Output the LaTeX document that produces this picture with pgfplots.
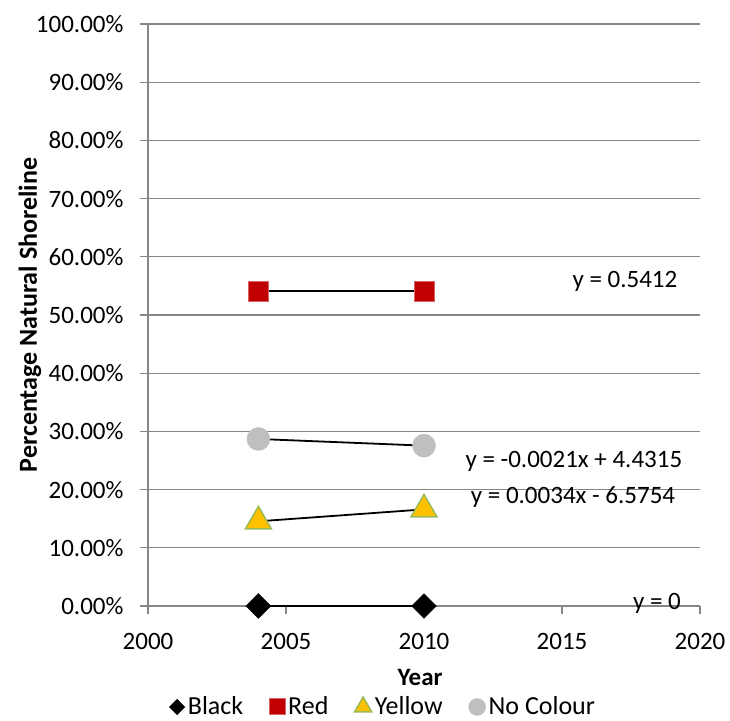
\documentclass[border=0pt]{standalone}
\usepackage{pgfplots}
\pgfplotsset{compat=1.18}
\usetikzlibrary{calc}
\usepackage{fontspec}
\setmainfont{Carlito}
\definecolor{gridgray}{HTML}{868686}
\definecolor{xlred}{HTML}{C00000}
\definecolor{xlyellow}{HTML}{FFC000}
\definecolor{xlgreen}{HTML}{9BBB59}
\definecolor{xlgray}{HTML}{BFBFBF}
\begin{document}
\fontsize{25bp}{30bp}\selectfont
\begin{tikzpicture}
\begin{axis}[
    scale only axis,
    width=552bp, height=582bp,
    xmin=2000, xmax=2020,
    ymin=0, ymax=1,
    xtick={2000,2005,2010,2015,2020},
    xticklabels={2000,2005,2010,2015,2020},
    ytick={0,0.1,0.2,0.3,0.4,0.5,0.6,0.7,0.8,0.9,1},
    yticklabels={0.00\%,10.00\%,20.00\%,30.00\%,40.00\%,50.00\%,60.00\%,70.00\%,80.00\%,90.00\%,100.00\%},
    axis x line*=bottom, axis y line*=left,
    axis line style={gridgray, line width=1.2bp, -},
    tick style={gridgray, line width=1.2bp},
    tick align=outside, major tick length=8bp,
    ymajorgrids, grid style={gridgray, line width=1.2bp},
    xlabel={\textbf{Year}},
    ylabel={\textbf{Percentage Natural Shoreline}},
    xlabel style={at={(axis description cs:0.493,-0.122)}, anchor=center},
    ylabel style={at={(axis description cs:-0.214,0.5)}, anchor=center,
        font=\fontsize{26bp}{30bp}\selectfont},
    ticklabel style={font=\fontsize{25bp}{30bp}\selectfont},
    xticklabel style={yshift=-11bp},
    yticklabel style={xshift=-8bp},
    clip=false,
    legend columns=4,
    legend style={at={(axis description cs:0.426,-0.1735)}, anchor=center, draw=none, fill=none,
        font=\fontsize{26bp}{30bp}\selectfont,
        nodes={inner ysep=1bp},
        /tikz/every odd column/.append style={column sep=1bp},
        /tikz/every even column/.append style={column sep=24bp}},
    legend cell align=left,
]
% markers
\addplot[only marks, mark=square*, mark size=8.8bp, mark options={fill=black, draw=black, rotate=45},
    legend image post style={mark size=5.5bp}]
    coordinates {(2004,0) (2010,0)};
\addlegendentry{Black}
\addplot[only marks, mark=square*, mark size=10bp, mark options={fill=xlred, draw=xlred!60!white, line width=1bp},
    legend image post style={mark size=8bp}]
    coordinates {(2004,0.5412) (2010,0.5412)};
\addlegendentry{Red}
\addplot[only marks, mark=triangle*, mark size=15bp, mark options={fill=xlyellow, draw=xlgreen, line width=1.5bp},
    legend image post style={mark size=10bp}]
    coordinates {(2004,0.1455) (2010,0.1660)};
\addlegendentry{Yellow}
\addplot[only marks, mark=*, mark size=11.5bp, mark options={fill=xlgray, draw=xlgray},
    legend image post style={mark size=8.5bp}]
    coordinates {(2004,0.2870) (2010,0.2755)};
\addlegendentry{No Colour}
% trendlines
\addplot[black, line width=1.8bp, forget plot] coordinates {(2004,0) (2010,0)};
\addplot[black, line width=1.8bp, forget plot] coordinates {(2004,0.5412) (2010,0.5412)};
\addplot[black, line width=1.8bp, forget plot] coordinates {(2004,0.1455) (2010,0.1660)};
\addplot[black, line width=1.8bp, forget plot] coordinates {(2004,0.2870) (2010,0.2755)};
% trendline equations
\node at (axis cs:2017.28,0.558) {y = 0.5412};
\node at (axis cs:2015.43,0.249) {y = -0.0021x + 4.4315};
\node at (axis cs:2015.40,0.187) {y = 0.0034x - 6.5754};
\node at (axis cs:2018.44,0.005) {y = 0};
\coordinate (sw) at (axis description cs:0,0);
\coordinate (ne) at (axis description cs:1,1);
\end{axis}
\pgfresetboundingbox
\path ($(sw)+(-148bp,-115bp)$) rectangle ($(ne)+(30bp,24bp)$);
\end{tikzpicture}
\end{document}
